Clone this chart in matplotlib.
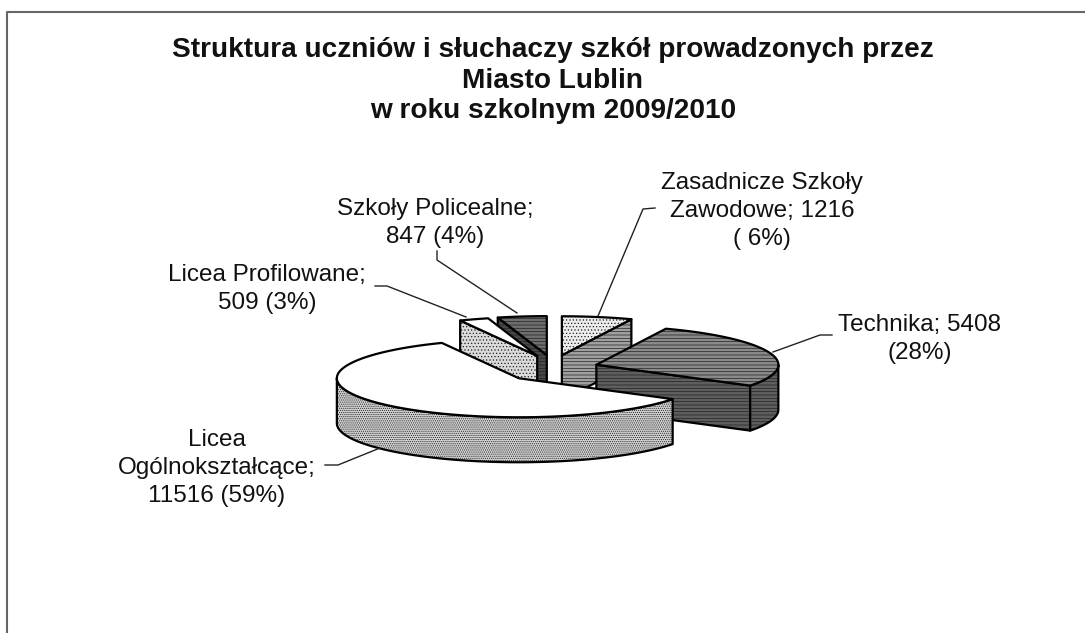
import numpy as np
import matplotlib
matplotlib.use('Agg')
import matplotlib.pyplot as plt
from matplotlib.patches import Polygon

plt.rcParams['font.family'] = ['Liberation Sans', 'DejaVu Sans']
plt.rcParams['hatch.linewidth'] = 0.5

# dane
categories = ['Zasadnicze Szkoły Zawodowe', 'Technika', 'Licea Ogólnokształcące',
              'Licea Profilowane', 'Szkoły Policealne']
values = [1216, 5408, 11516, 509, 847]
labels = ['Zasadnicze Szkoły\nZawodowe; 1216\n( 6%)', 'Technika; 5408\n(28%)',
          'Licea\nOgólnokształcące;\n11516 (59%)', 'Licea Profilowane;\n509 (3%)',
          'Szkoły Policealne;\n847 (4%)']
title = 'Struktura uczniów i słuchaczy szkół prowadzonych przez\nMiasto Lublin\nw roku szkolnym 2009/2010'

# wyglad
top_colors = ['#ececec', '#8a8a8a', 'white', 'white', '#6e6e6e']
top_hatch = ['.....', '-----', None, None, '-----']
side_colors = ['#a0a0a0', '#5e5e5e', '#d0d0d0', '#dadada', '#484848']
side_hatch = ['-----', '-----', '........', '.....', '-----']
label_pos = [(762, 211), (920, 339), (217, 468), (267, 289), (435, 223)]
leaders = [[(655, 208), (643, 209), (598, 316)],
           [(832, 335), (820, 335), (773, 352)],
           [(325, 465), (338, 465), (380, 448)],
           [(375, 286), (387, 286), (466, 317)],
           [(437, 251), (437, 260), (517, 313)]]

# geometria pseudo-3D (w pikselach)
cx, cy = 553, 369
rx, ry = 182, 39
ex, ey = 45.5, 14
depth = 45
draw_order = [4, 3, 0, 1, 2]


def rim(c, a1, a2, dz=0):
    t = np.radians(np.linspace(a1, a2, max(int(abs(a2 - a1)), 2)))
    return np.column_stack([c[0] + rx * np.sin(t), c[1] - ry * np.cos(t) + dz])


def face(ax, pts, color, hatch, zorder):
    ax.add_patch(Polygon(pts, closed=True, facecolor=color, edgecolor='#222222',
                         hatch=hatch, lw=0, zorder=zorder))
    ax.add_patch(Polygon(pts, closed=True, fill=False, edgecolor='black',
                         lw=1.6, joinstyle='round', zorder=zorder))


def radial_face(ax, c, ang, color, hatch, zorder):
    p = rim(c, ang, ang + 0.001)[0]
    pts = [c, p, (p[0], p[1] + depth), (c[0], c[1] + depth)]
    face(ax, pts, color, hatch, zorder)


fig = plt.figure(figsize=(10.85, 6.33), dpi=100)
ax = fig.add_axes([0, 0, 1, 1])
ax.set_xlim(0, 1085)
ax.set_ylim(633, 0)
ax.axis('off')

# ramka: tylko lewa i gorna krawedz widoczna na skanie
ax.plot([7, 7, 1085], [633, 12, 12], color='#666666', lw=1.5)

edges = np.cumsum([0] + values) / sum(values) * 360

z = 2
for i in draw_order:
    a1, a2 = edges[i], edges[i + 1]
    mid = np.radians((a1 + a2) / 2)
    c = (cx + ex * np.sin(mid), cy - ey * np.cos(mid))
    if 180 < a1 < 360:
        radial_face(ax, c, a1, side_colors[i], side_hatch[i], z)
    if 0 < a2 < 180:
        radial_face(ax, c, a2, side_colors[i], side_hatch[i], z)
    # zewnetrzna sciana
    s1, s2 = max(a1, 90), min(a2, 270)
    if s1 < s2:
        up = rim(c, s1, s2)
        down = rim(c, s2, s1, depth)
        face(ax, np.vstack([up, down]), side_colors[i], side_hatch[i], z)
    # wierzch
    top = np.vstack([[c], rim(c, a1, a2)])
    face(ax, top, top_colors[i], top_hatch[i], z)
    z += 1

for (x, y), txt in zip(label_pos, labels):
    ax.text(x, y, txt, ha='center', va='center', fontsize=17.5, color='#111111',
            linespacing=1.33, zorder=20)

for line in leaders:
    xs, ys = zip(*line)
    ax.plot(xs, ys, color='#222222', lw=1.0, zorder=20)

ax.text(553, 80.5, title, ha='center', va='center', fontsize=20.2, fontweight='bold',
        color='#111111', linespacing=1.24, zorder=20)

fig.savefig('out.png', dpi=100)
